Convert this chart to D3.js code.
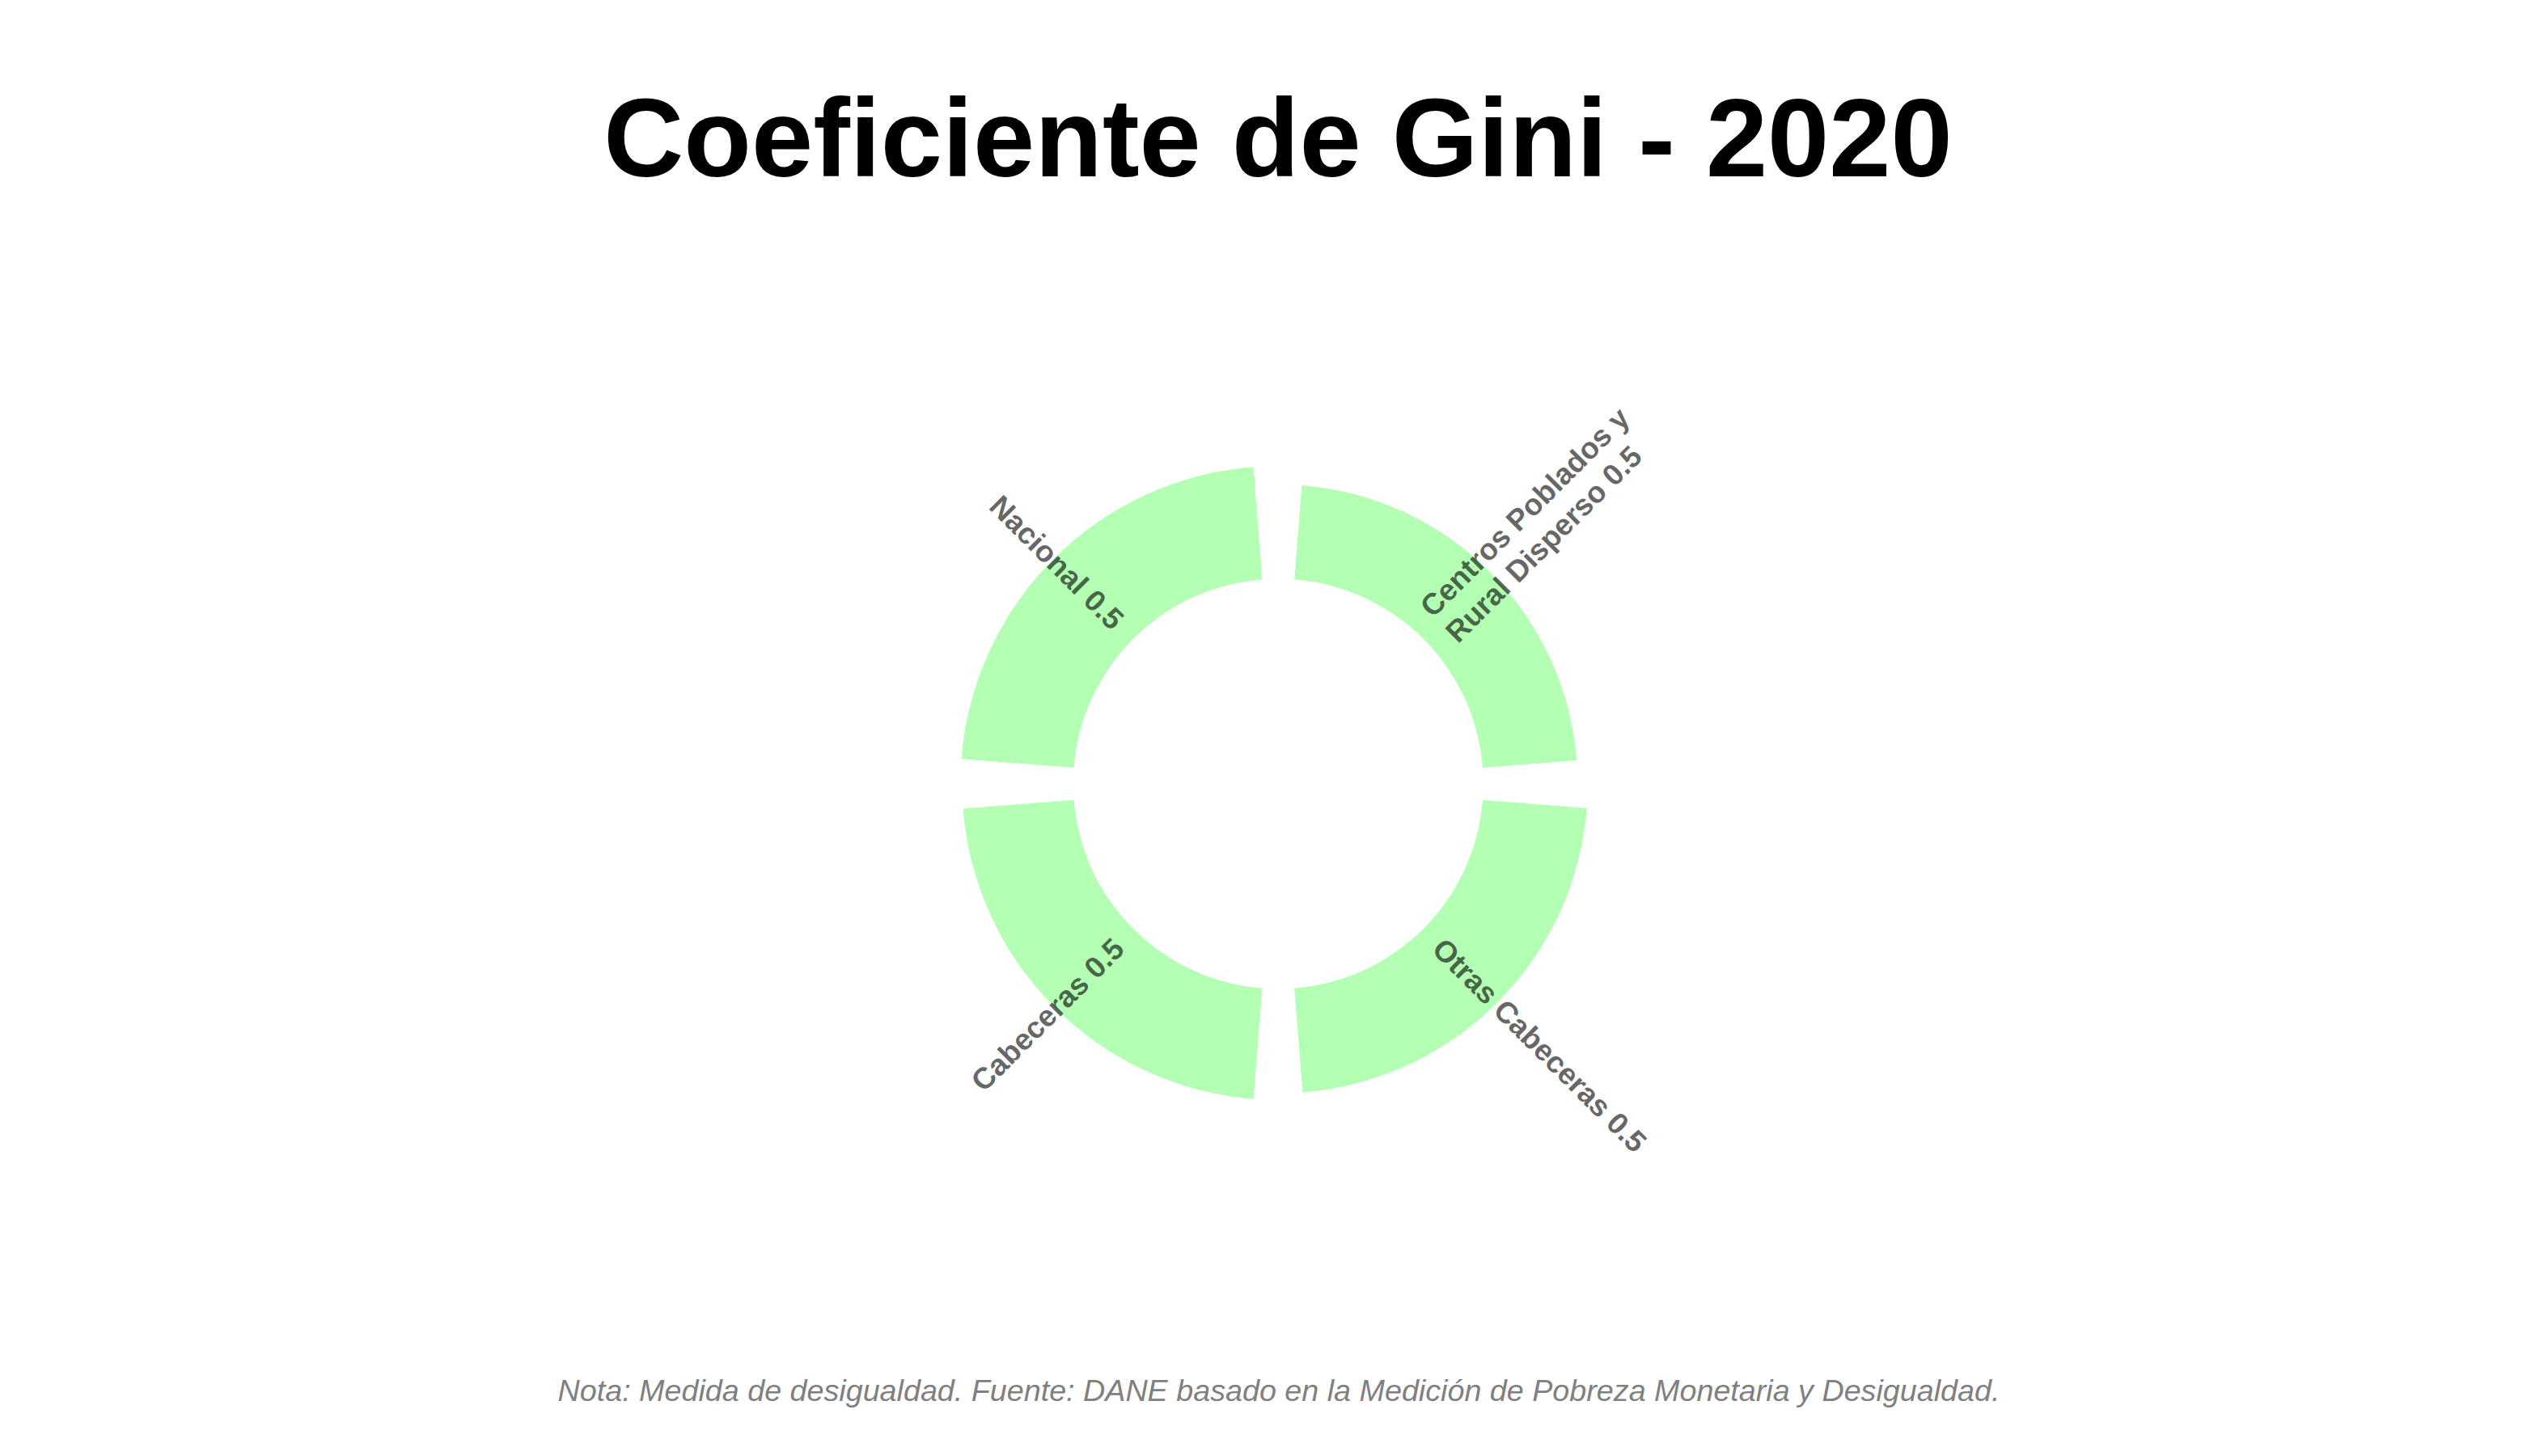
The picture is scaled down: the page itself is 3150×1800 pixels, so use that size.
<!DOCTYPE html>
<html>
<head>
<meta charset="utf-8">
<script src="https://cdn.jsdelivr.net/npm/d3@7"></script>
<style>
  html, body { margin: 0; padding: 0; background: #ffffff; }
  svg { display: block; }
</style>
</head>
<body>
<script>
// ---- data ----
const categories = [
  "Centros Poblados y Rural Disperso",
  "Otras Cabeceras",
  "Cabeceras",
  "Nacional"
];
const giniValues = [0.455, 0.504, 0.536, 0.544];
const titleText = "Coeficiente de Gini - 2020";
const captionText = "Nota: Medida de desigualdad. Fuente: DANE basado en la Medición de Pobreza Monetaria y Desigualdad.";
const labelValuePosition = 0.1;

// ---- layout ----
const W = 3150, H = 1800;
const cx = 1580.3, cy = 969;
const innerR = 253.5, pxPerUnit = 256.4;
const barFill = "#b3ffb3";

const svg = d3.select("body").append("svg")
  .attr("width", W).attr("height", H)
  .attr("viewBox", `0 0 ${W} ${H}`);

svg.append("rect").attr("width", W).attr("height", H).attr("fill", "#ffffff");

const data = categories.map((c, i) => ({ cat: c, value: giniValues[i] }));

const x = d3.scaleBand()
  .domain(categories)
  .range([0, 2 * Math.PI])
  .paddingInner(0.1)
  .paddingOuter(0.05);

const y = d3.scaleLinear()
  .domain([0, 0.6])
  .range([innerR, innerR + 0.6 * pxPerUnit]);

const g = svg.append("g").attr("transform", `translate(${cx},${cy})`);

const arc = d3.arc()
  .innerRadius(y(0))
  .outerRadius(d => y(d.value))
  .startAngle(d => x(d.cat))
  .endAngle(d => x(d.cat) + x.bandwidth());

g.selectAll("path.bar")
  .data(data)
  .join("path")
  .attr("class", "bar")
  .attr("d", arc)
  .attr("fill", barFill);

// wrap label text like str_wrap(width = 20)
function wrap(str, width) {
  const words = str.split(" ");
  const lines = [];
  let cur = "";
  words.forEach(w => {
    if (cur === "") cur = w;
    else if ((cur + " " + w).length <= width) cur += " " + w;
    else { lines.push(cur); cur = w; }
  });
  if (cur) lines.push(cur);
  return lines;
}

const fmt = d3.format(".1f");
const fontSize = 37;
const lineH = fontSize * 1.2;

data.forEach(d => {
  const mid = x(d.cat) + x.bandwidth() / 2;        // radians, clockwise from top
  const deg = mid * 180 / Math.PI;
  const r = y(labelValuePosition);
  const px = r * Math.sin(mid), py = -r * Math.cos(mid);
  let rot = deg - 90;
  let anchor = "start";
  if (deg > 180) { rot = rot - 180; anchor = "end"; }
  const lines = wrap(`${d.cat} ${fmt(d.value)}`, 20);
  const t = g.append("text")
    .attr("transform", `translate(${px},${py}) rotate(${rot})`)
    .attr("text-anchor", anchor)
    .attr("font-family", "'Liberation Sans', Arial, Helvetica, sans-serif")
    .attr("font-weight", "bold")
    .attr("font-size", fontSize)
    .attr("fill", "#000000")
    .attr("fill-opacity", 0.6);
  lines.forEach((ln, i) => {
    t.append("tspan")
      .attr("x", 0)
      .attr("y", (i - (lines.length - 1) / 2) * lineH + 0.35 * fontSize)
      .text(ln);
  });
});

// title
svg.append("text")
  .attr("x", 1580).attr("y", 218)
  .attr("text-anchor", "middle")
  .attr("font-family", "'Liberation Sans', Arial, Helvetica, sans-serif")
  .attr("font-weight", "bold")
  .attr("font-size", 137)
  .attr("fill", "#000000")
  .text(titleText);

// caption
svg.append("text")
  .attr("x", 1581).attr("y", 1732)
  .attr("text-anchor", "middle")
  .attr("font-family", "'Liberation Sans', Arial, Helvetica, sans-serif")
  .attr("font-style", "italic")
  .attr("font-size", 37.7)
  .attr("fill", "#808080")
  .text(captionText);
</script>
</body>
</html>
